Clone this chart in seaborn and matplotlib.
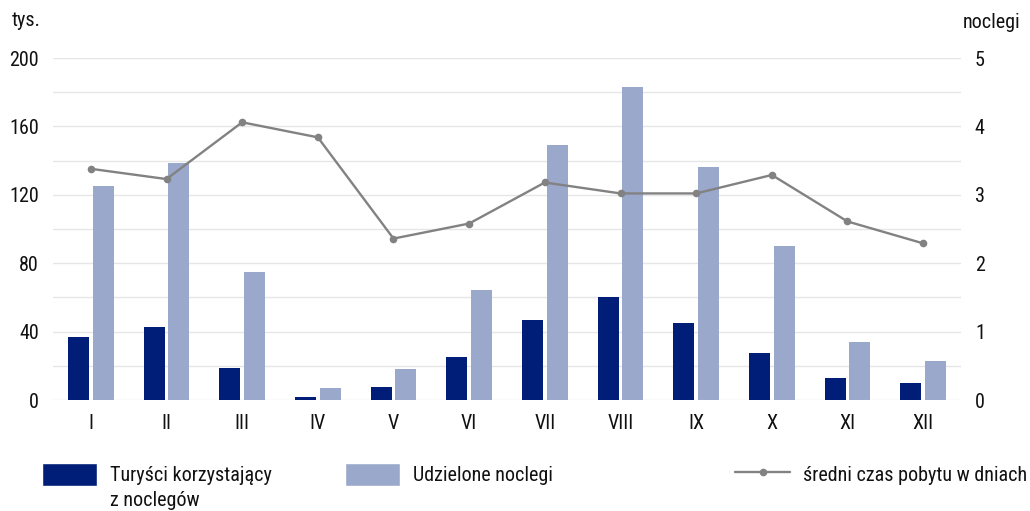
import matplotlib.pyplot as plt
import pandas as pd
import seaborn as sns
from matplotlib.patches import Patch
from matplotlib.lines import Line2D
from matplotlib.ticker import MultipleLocator

# Data
months = ["I", "II", "III", "IV", "V", "VI", "VII", "VIII", "IX", "X", "XI", "XII"]
turysci = [37.1, 42.9, 18.5, 1.9, 7.8, 25.4, 46.8, 60.5, 45.3, 27.7, 13.1, 9.8]
noclegi = [125.3, 138.5, 74.7, 6.8, 18.0, 64.4, 149.0, 182.8, 136.2, 90.3, 33.8, 22.6]
sredni_czas = [3.38, 3.23, 4.06, 3.84, 2.36, 2.58, 3.18, 3.02, 3.02, 3.29, 2.61, 2.29]

label_tur = "Turyści korzystający"
label_tur2 = "z noclegów"
label_noc = "Udzielone noclegi"
label_czas = "średni czas pobytu w dniach"

dark = "#001E78"
light = "#9AA8CB"
grey = "#828282"
text_c = "#111111"
fs = 14.5

df_bar = pd.DataFrame({
    "miesiac": months * 2,
    "seria": ["tur"] * 12 + ["noc"] * 12,
    "wartosc": turysci + noclegi,
})
df_line = pd.DataFrame({"miesiac": months, "czas": sredni_czas})

sns.set_style("white")
plt.rcParams["font.family"] = ["Roboto Condensed", "Roboto", "DejaVu Sans"]
plt.rcParams["text.color"] = text_c
plt.rcParams["xtick.color"] = text_c
plt.rcParams["ytick.color"] = text_c

fig = plt.figure(figsize=(10.3, 5.11), dpi=100)
ax = fig.add_axes([53 / 1030, 1 - 400 / 511, 908 / 1030, 342 / 511])

sns.barplot(data=df_bar, x="miesiac", y="wartosc", hue="seria", order=months,
            palette=[dark, light], saturation=1, width=0.65, gap=0.15,
            errorbar=None, linewidth=0, legend=False, ax=ax)
ax.set_xlim(-0.5, 11.5)
ax.set_ylim(0, 200)
ax.yaxis.set_major_locator(MultipleLocator(40))
ax.yaxis.set_minor_locator(MultipleLocator(20))
ax.grid(axis="y", which="both", color="#e6e6e6", linewidth=1)
ax.set_axisbelow(True)
ax.set_xlabel("")
ax.set_ylabel("")
ax.tick_params(axis="y", which="both", length=0, pad=10, labelsize=fs)
ax.tick_params(axis="x", length=0, pad=10, labelsize=fs)
for s in ax.spines.values():
    s.set_visible(False)

ax2 = ax.twinx()
sns.lineplot(data=df_line, x="miesiac", y="czas", color=grey, linewidth=1.7,
             marker="o", markersize=5.5, markeredgewidth=0, ax=ax2)
ax2.set_ylim(0, 5)
ax2.set_yticks(range(6))
ax2.set_ylabel("")
ax2.tick_params(axis="y", length=0, pad=10, labelsize=fs)
for s in ax2.spines.values():
    s.set_visible(False)

fig.text(12 / 1030, 1 - 20 / 511, "tys.", fontsize=fs, va="center", ha="left")
fig.text(1020 / 1030, 1 - 22 / 511, "noclegi", fontsize=fs, va="center", ha="right")

# legend, three separate entries as in the original
leg_kw = dict(frameon=False, fontsize=fs, handlelength=2.75, handleheight=1.35,
              handletextpad=0.65, borderpad=0, borderaxespad=0, loc="upper left")
fig.legend([Patch(facecolor=dark)], [label_tur],
           bbox_to_anchor=(42 / 1030, 1 - 463 / 511), **leg_kw)
fig.text(110 / 1030, 1 - 500 / 511, label_tur2, fontsize=fs, va="center", ha="left")
fig.legend([Patch(facecolor=light)], [label_noc],
           bbox_to_anchor=(345 / 1030, 1 - 463 / 511), **leg_kw)
fig.legend([Line2D([], [], color=grey, linewidth=1.7, marker="o", markersize=5.5,
                   markeredgewidth=0)], [label_czas],
           bbox_to_anchor=(735 / 1030, 1 - 463 / 511), **leg_kw)

fig.savefig("out.png", dpi=100)
